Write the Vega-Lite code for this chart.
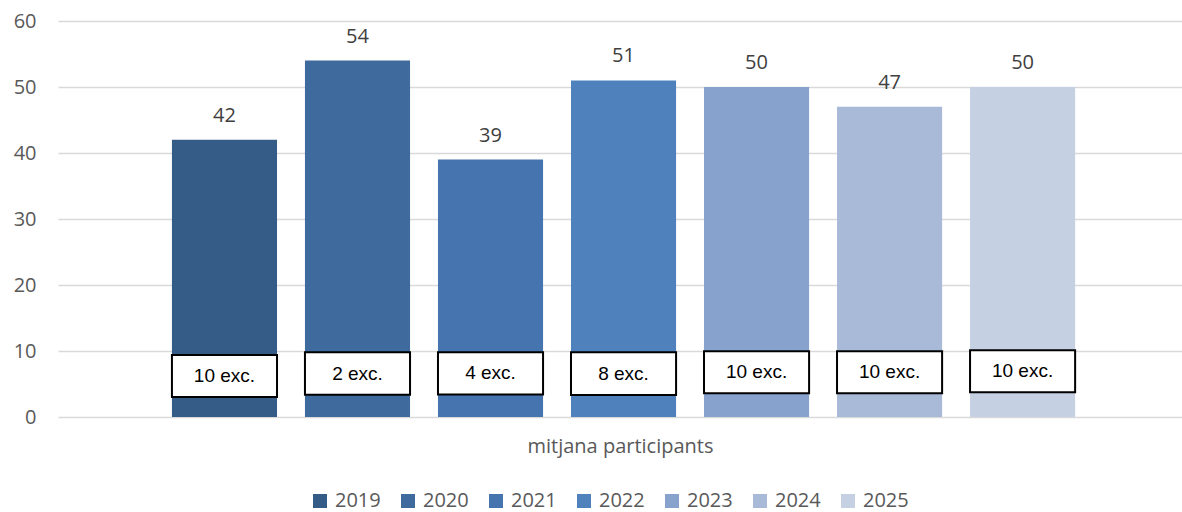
{
  "$schema": "https://vega.github.io/schema/vega-lite/v6.json",
  "autosize": "none",
  "width": 1124,
  "height": 396,
  "padding": {"left": 58, "top": 21, "right": 0, "bottom": 95},
  "background": "white",
  "config": {
    "view": {"stroke": null},
    "font": "Open Sans"
  },
  "data": {
    "values": [
      {"year": "2019", "value": 42, "exc": "10 exc.", "lo": 3.03, "hi": 9.39},
      {"year": "2020", "value": 54, "exc": "2 exc.", "lo": 3.37, "hi": 9.8},
      {"year": "2021", "value": 39, "exc": "4 exc.", "lo": 3.42, "hi": 9.8},
      {"year": "2022", "value": 51, "exc": "8 exc.", "lo": 3.33, "hi": 9.8},
      {"year": "2023", "value": 50, "exc": "10 exc.", "lo": 3.59, "hi": 9.95},
      {"year": "2024", "value": 47, "exc": "10 exc.", "lo": 3.59, "hi": 9.95},
      {"year": "2025", "value": 50, "exc": "10 exc.", "lo": 3.74, "hi": 10.1}
    ]
  },
  "encoding": {
    "x": {
      "field": "year",
      "type": "nominal",
      "scale": {"paddingInner": 0.21, "paddingOuter": 0.83, "align": 0.516},
      "axis": {
        "title": "mitjana participants",
        "labels": false,
        "ticks": false,
        "domain": false,
        "grid": false,
        "titleFont": "Open Sans",
        "titleFontSize": 20,
        "titleFontWeight": "normal",
        "titleColor": "#595959",
        "titlePadding": 19
      }
    }
  },
  "layer": [
    {
      "mark": {"type": "bar"},
      "encoding": {
        "y": {
          "field": "value",
          "type": "quantitative",
          "scale": {"domain": [0, 60]},
          "axis": {
            "title": null,
            "values": [0, 10, 20, 30, 40, 50, 60],
            "domain": false,
            "ticks": false,
            "gridColor": "#d9d9d9",
            "gridWidth": 1.5,
            "labelFont": "Open Sans",
            "labelFontSize": 20,
            "labelColor": "#595959",
            "labelPadding": 22
          }
        },
        "color": {
          "field": "year",
          "type": "nominal",
          "scale": {
            "range": ["#355C87", "#3F6A9D", "#4674AE", "#4F81BD", "#87A2CC", "#A9B9D8", "#C5D0E3"]
          },
          "legend": {
            "title": null,
            "orient": "none",
            "direction": "horizontal",
            "legendX": 252,
            "legendY": 470,
            "symbolType": "square",
            "symbolSize": 196,
            "symbolStrokeWidth": 0,
            "labelFont": "Open Sans",
            "labelFontSize": 20,
            "labelColor": "#595959",
            "labelOffset": 5,
            "columnPadding": 17
          }
        }
      }
    },
    {
      "mark": {"type": "text", "baseline": "bottom", "dy": -14, "fontSize": 20, "font": "Open Sans", "color": "#404040"},
      "encoding": {
        "y": {"field": "value", "type": "quantitative"},
        "text": {"field": "value", "type": "quantitative"}
      }
    },
    {
      "mark": {"type": "bar", "fill": "white", "stroke": "black", "strokeWidth": 2},
      "encoding": {
        "y": {"field": "lo", "type": "quantitative"},
        "y2": {"field": "hi"}
      }
    },
    {
      "transform": [{"calculate": "(datum.lo + datum.hi) / 2", "as": "mid"}],
      "mark": {"type": "text", "baseline": "middle", "fontSize": 19, "font": "Liberation Sans", "color": "black"},
      "encoding": {
        "y": {"field": "mid", "type": "quantitative"},
        "text": {"field": "exc", "type": "nominal"}
      }
    }
  ]
}
